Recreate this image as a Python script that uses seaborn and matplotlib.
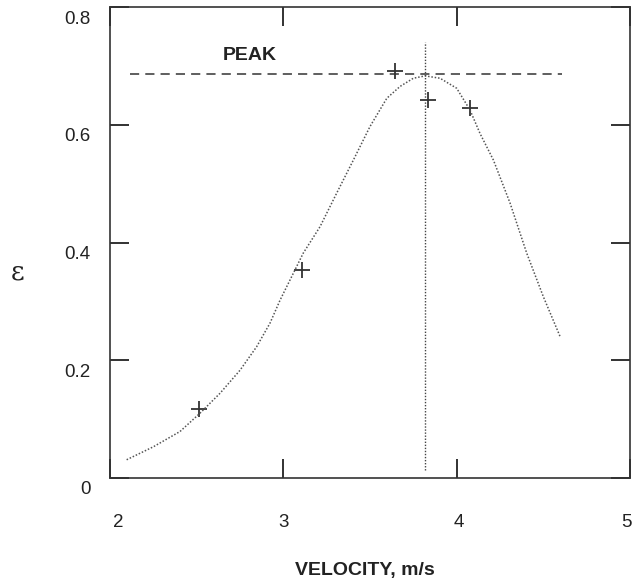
import matplotlib
matplotlib.use("Agg")
import matplotlib.pyplot as plt
import matplotlib.transforms as mtransforms
import seaborn as sns
import pandas as pd

# ---- data ----
curve_x = [2.096, 2.25, 2.404, 2.519, 2.635, 2.75, 2.846, 2.923, 2.981,
           3.115, 3.212, 3.308, 3.404, 3.50, 3.597, 3.673, 3.75, 3.818,
           3.904, 4.00, 4.077, 4.135, 4.212, 4.308, 4.404, 4.50, 4.597]
curve_y = [0.031, 0.053, 0.079, 0.110, 0.144, 0.183, 0.223, 0.263, 0.302,
           0.382, 0.427, 0.484, 0.540, 0.597, 0.645, 0.665, 0.679, 0.683,
           0.679, 0.662, 0.625, 0.585, 0.540, 0.467, 0.382, 0.308, 0.240]
meas_x = [2.514, 3.11, 3.645, 3.837, 4.077]
meas_y = [0.117, 0.353, 0.691, 0.642, 0.628]
peak_y = 0.686
peak_x_range = [2.115, 4.61]
peak_v = 3.82
peak_v_range = [0.014, 0.74]
x_ticks = [2, 3, 4, 5]
y_ticks = [0, 0.2, 0.4, 0.6, 0.8]
y_tick_labels = ["0", "0.2", "0.4", "0.6", "0.8"]

sns.set_theme(style="white")
plt.rcParams['font.family'] = ['Liberation Sans', 'DejaVu Sans']

fig = plt.figure(figsize=(6.32, 5.82), dpi=100)
ax = fig.add_axes([110/632, 1-478/582, 520/632, 471/582])

curve_df = pd.DataFrame({"x": curve_x, "y": curve_y})
meas_df = pd.DataFrame({"x": meas_x, "y": meas_y})

sns.lineplot(data=curve_df, x="x", y="y", ax=ax, color="#555555",
             linestyle=(0, (1, 1.2)), linewidth=1.1, sort=False)
sns.scatterplot(data=meas_df, x="x", y="y", ax=ax, marker="+", s=130,
                color="#333333", linewidth=1.3)
ax.plot(peak_x_range, [peak_y, peak_y], color="#333333", linewidth=1.1,
        linestyle=(0, (6, 4)))
ax.plot([peak_v, peak_v], peak_v_range, color="#444444", linewidth=1.0,
        linestyle=(0, (1, 1.2)))

ax.text(2.805, 0.718, "PEAK", fontsize=14, color="#222222",
        ha="center", va="center", fontweight="semibold")

ax.set_xlim(2, 5)
ax.set_ylim(0, 0.8)
ax.set_xticks(x_ticks)
ax.set_yticks(y_ticks)
ax.set_yticklabels(y_tick_labels)
ax.set_xlabel("")
ax.set_ylabel("")
ax.tick_params(direction="in", length=14, width=1.3, color="#222222",
               top=True, right=True, bottom=True, left=True,
               labelsize=13.5, labelcolor="#222222")
ax.tick_params(axis="x", pad=26)
ax.tick_params(axis="y", pad=14)
off = mtransforms.ScaledTranslation(0, -10/100, fig.dpi_scale_trans)
for lab in ax.get_yticklabels():
    lab.set_transform(lab.get_transform() + off)
xl = ax.get_xticklabels()
shifts = [8, 0, 2, -4]
for lab, s in zip(xl, shifts):
    lab.set_transform(lab.get_transform() +
                      mtransforms.ScaledTranslation(s/100, 0, fig.dpi_scale_trans))
for sp in ax.spines.values():
    sp.set_color("#333333")
    sp.set_linewidth(1.2)

fig.text(18/632, 1-272/582, "ε", fontsize=19, ha="center", va="center",
         color="#222222", family=['DejaVu Serif', 'DejaVu Sans'])
fig.text(365/632, 1-570/582, "VELOCITY, m/s", fontsize=14, ha="center",
         va="center", color="#222222", fontweight="bold")

fig.savefig("out.png", dpi=100)
